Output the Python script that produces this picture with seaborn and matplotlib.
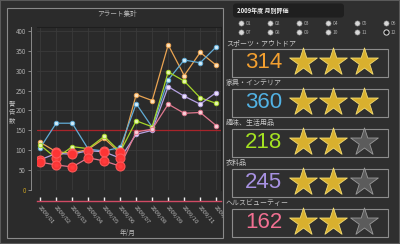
import numpy as np
import pandas as pd
import matplotlib
matplotlib.use("Agg")
import matplotlib.pyplot as plt
import seaborn as sns
from matplotlib.patches import Rectangle, FancyBboxPatch

# データ
months = list(range(1, 13))
month_labels = ["2009/%02d" % m for m in months]
categories = ["スポーツ・アウトドア", "家具・インテリア", "趣味、生活用品", "衣料品", "ヘルスビューティー"]
sports = [120, 96, 93, 102, 130, 92, 240, 225, 365, 288, 346, 314]
furniture = [106, 168, 168, 103, 98, 107, 217, 158, 277, 327, 320, 360]
hobby = [113, 80, 109, 104, 135, 96, 174, 159, 297, 274, 232, 218]
clothes = [76, 92, 90, 99, 96, 80, 140, 150, 260, 236, 216, 245]
health = [70, 63, 58, 81, 73, 60, 146, 153, 216, 193, 195, 162]
scores = [314, 360, 218, 245, 162]
stars = [3, 3, 2, 2, 2]
alert_line = 150
low_limit = 100
yticks = list(range(0, 401, 50))

series = [sports, furniture, hobby, clothes, health]
line_colors = ["#eaa452", "#62acd6", "#a6d62a", "#b6a2e2", "#e0788e"]
face_colors = ["#fde2bd", "#d2ecfa", "#e8f7b0", "#ece3fb", "#f8d0da"]
num_colors = ["#f4a030", "#52b2e4", "#a4e222", "#a892e2", "#f27092"]

sns.set_theme(style="dark")
plt.rcParams["font.family"] = ["Noto Sans CJK JP", "DejaVu Sans"]

bg = "#2f2f2f"
fig = plt.figure(figsize=(4, 2.44), dpi=100, facecolor=bg)
W, H = 400, 244


def fx(px):
    return px / W


def fy(py):
    return 1 - py / H


# 外枠
fig.patches.append(Rectangle((0, 0), 1, 1, transform=fig.transFigure,
                             fill=False, edgecolor="#5a5a5a", lw=1.5, zorder=-2))
panel = Rectangle((fx(7), fy(238)), fx(216), (238 - 8) / H,
                  transform=fig.transFigure, facecolor="#2b2b2b",
                  edgecolor="#8a8a8a", lw=0.8, zorder=-1)
fig.patches.append(panel)

# 折れ線グラフ
ax = fig.add_axes([fx(37), fy(190), fx(221 - 37), (190 - 27) / H])
ax.set_facecolor("#2a2a2a")
ax.axhline(alert_line, color="#a8242a", lw=0.9, zorder=1)
for vals, c, fc in zip(series, line_colors, face_colors):
    sns.lineplot(x=months, y=vals, ax=ax, color=c, lw=0.9, marker="o",
                 markersize=3.2, markerfacecolor=fc, markeredgecolor=c,
                 markeredgewidth=0.7, zorder=3)
    lows = [(m, v) for m, v in zip(months, vals) if v < low_limit]
    if lows:
        lx, ly = zip(*lows)
        sns.scatterplot(x=list(lx), y=list(ly), ax=ax, color="#ff3434", s=42,
                        edgecolor="#ff5a5a", linewidth=0.8, alpha=0.95,
                        zorder=5, legend=False)

# スパイン位置を先に設定（ticks がリセットされるため）
for s in ["top", "right"]:
    ax.spines[s].set_color("#1e1e1e")
    ax.spines[s].set_linewidth(0.8)
ax.spines["left"].set_position(("outward", 4))
ax.spines["left"].set_color("#8a8a8a")
ax.spines["left"].set_linewidth(0.7)
ax.spines["bottom"].set_position(("outward", 8))
ax.spines["bottom"].set_color("#d04a64")
ax.spines["bottom"].set_linewidth(1.0)

ax.set_xlim(0.8, 12.3)
ax.set_ylim(0, 410)
ax.set_yticks(yticks)
ax.set_yticklabels([str(t) for t in yticks])
ax.set_xticks(months)
ax.set_xticklabels(month_labels)
ax.tick_params(axis="y", length=2, width=0.6, color="#9a9a9a", pad=2, left=True,
               labelsize=4.5, labelcolor="#b0b0b0")
ax.tick_params(axis="x", length=3, width=1.0, color="#f0f0f0", direction="in",
               pad=3, bottom=True, labelsize=4.3, labelcolor="#b8b8b8")
for lab in ax.get_xticklabels():
    lab.set_rotation(-50)
    lab.set_ha("left")
    lab.set_va("top")
    lab.set_rotation_mode("anchor")
    lab.set_clip_path(panel)
ax.get_yticklabels()[0].set_color("#c8a020")
ax.grid(True, color="#3a3a3a", lw=0.6)
ax.set_xlabel("")
ax.set_ylabel("")

fig.text(fx(117), fy(14), "アラート集計", fontsize=4.8, color="#b8b8b8",
         ha="center", va="center")
fig.text(fx(12), fy(112), "警\n告\n数", fontsize=4.6, color="#b8b8b8",
         ha="center", va="center", linespacing=1.0)
fig.text(fx(128), fy(233), "年/月", fontsize=4.8, color="#b8b8b8",
         ha="center", va="center")

# 右側パネル
ov = fig.add_axes([0, 0, 1, 1], facecolor="none")
ov.set_xlim(0, W)
ov.set_ylim(H, 0)
ov.axis("off")

ov.add_patch(FancyBboxPatch((233, 3.5), 111, 14, boxstyle="round,pad=0,rounding_size=3",
                            facecolor="#1f1f1f", edgecolor="none"))
ov.text(237, 10.5, "2009年度 月別評価", fontsize=4.3, color="#f0f0f0",
        fontweight="bold", va="center", ha="left")

radio_x = [241, 270, 299, 328, 357, 386]
for row, ry in enumerate([23.3, 32.3]):
    for i, rx in enumerate(radio_x):
        m = row * 6 + i + 1
        if m == 12:
            ov.scatter([rx], [ry], s=14, facecolor="#2a2a2a", edgecolor="#d8d8d8",
                       linewidth=0.8, zorder=4)
            ov.scatter([rx], [ry], s=3, color="#1a1a1a", zorder=5)
        else:
            ov.scatter([rx], [ry], s=14, color="#d8d8d8", edgecolor="#888888",
                       linewidth=0.4, zorder=4)
        ov.text(rx + 5, ry, "%02d" % m, fontsize=3.6, color="#a8a8a8",
                va="center", ha="left")

for i, (cat, sc, n, col) in enumerate(zip(categories, scores, stars, num_colors)):
    top = 49 + 40 * i
    ov.text(226, top - 6, cat, fontsize=5.0, color="#c8c8c8", va="center", ha="left")
    ov.add_patch(Rectangle((232, top), 156, 27.5, facecolor="none",
                           edgecolor="#8c8c8c", lw=0.8))
    ov.text(263.5, top + 14, str(sc), fontsize=16, color=col, ha="center",
            va="center", family=["Liberation Sans", "DejaVu Sans"])
    for k, sx in enumerate([302.7, 333, 364]):
        filled = k < n
        ov.scatter([sx], [top + 13], marker="*", s=440,
                   color="#d9b02e" if filled else "#5c5c5c",
                   edgecolor="#f5dc70" if filled else "#9a9a9a",
                   linewidth=0.6, zorder=4)

fig.savefig("out.png", dpi=100, facecolor=bg)
